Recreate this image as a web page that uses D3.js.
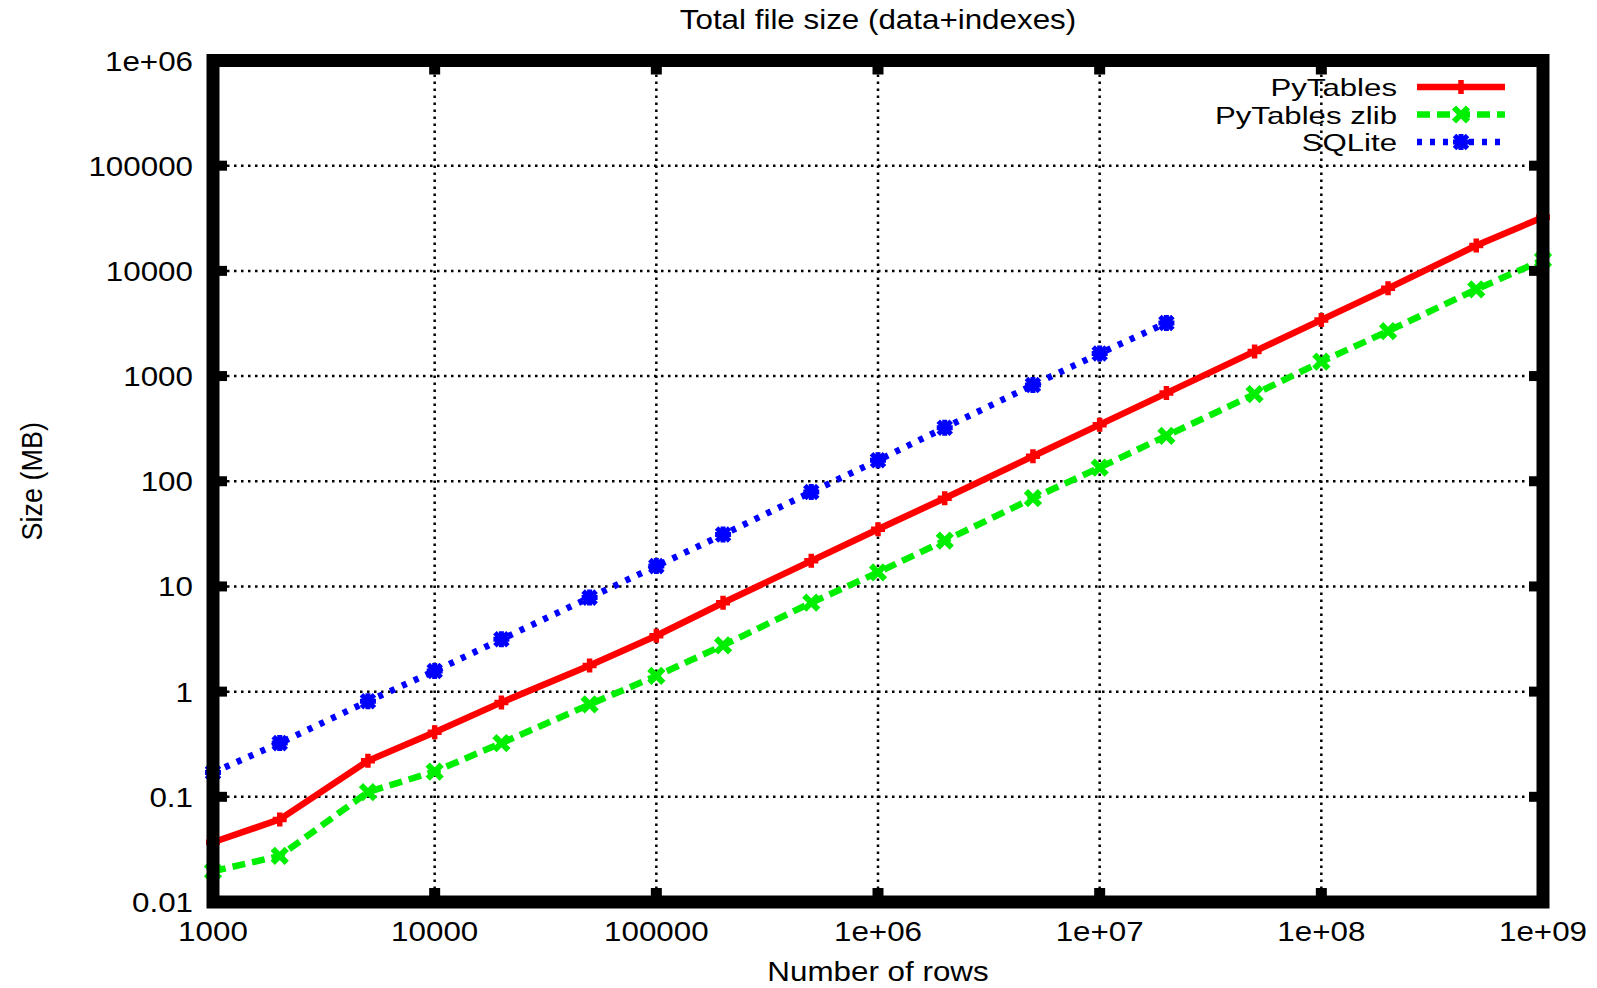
<!DOCTYPE html>
<html>
<head>
<meta charset="utf-8">
<script src="https://cdn.jsdelivr.net/npm/d3@7"></script>
<style>
  body { margin: 0; background: #fff; }
  svg { display: block; }
  text { font-family: "Liberation Sans", Arial, sans-serif; fill: #000; }
</style>
</head>
<body>
<div id="chart"></div>
<script>
// number of rows on the x axis
const rows = [1000, 2000, 5000, 1e4, 2e4, 5e4, 1e5, 2e5, 5e5, 1e6, 2e6, 5e6, 1e7, 2e7, 5e7, 1e8, 2e8, 5e8, 1e9];

// total size in MB
const pytables = [0.037, 0.061, 0.22, 0.41, 0.79, 1.77, 3.4, 7.0, 17.5, 35, 69, 173, 345, 689, 1715, 3420, 6820, 17400, 32400];
const pytablesZlib = [0.0196, 0.0274, 0.111, 0.174, 0.324, 0.755, 1.41, 2.75, 7.0, 13.6, 27.2, 69, 135, 270, 673, 1370, 2675, 6670, 12700];
const sqlite = [0.17, 0.324, 0.81, 1.57, 3.14, 7.83, 15.6, 31.1, 79, 158, 323, 822, 1640, 3200];

const seriesNames = ["PyTables", "PyTables zlib", "SQLite"];

const xTicks = [1e3, 1e4, 1e5, 1e6, 1e7, 1e8, 1e9];
const xTickLabels = ["1000", "10000", "100000", "1e+06", "1e+07", "1e+08", "1e+09"];
const yTicks = [0.01, 0.1, 1, 10, 100, 1000, 1e4, 1e5, 1e6];
const yTickLabels = ["0.01", "0.1", "1", "10", "100", "1000", "10000", "100000", "1e+06"];

const W = 1597, H = 988;
const pLeft = 213, pRight = 1543, pTop = 60.5, pBottom = 902;

const svg = d3.select("#chart").append("svg").attr("width", W).attr("height", H);

const x = d3.scaleLog().domain([1e3, 1e9]).range([pLeft, pRight]);
const y = d3.scaleLog().domain([0.01, 1e6]).range([pBottom, pTop]);

// text in the original is a bit wide, so it gets a horizontal stretch
function label(g, tx, ty, str, anchor, size, rot, sx) {
  return g.append("text")
    .attr("transform", "translate(" + tx + "," + ty + ") scale(" + (sx || 1.12) + ",1)" + (rot ? " rotate(" + rot + ")" : ""))
    .attr("text-anchor", anchor)
    .attr("font-size", size)
    .text(str);
}

// grid
const grid = svg.append("g")
  .attr("stroke", "#000")
  .attr("stroke-width", 2.5)
  .attr("stroke-dasharray", "2.5,4.5");

grid.selectAll(".gx").data(xTicks.slice(1, -1)).enter().append("line")
  .attr("x1", (d) => x(d)).attr("x2", (d) => x(d))
  .attr("y1", pTop).attr("y2", pBottom);

grid.selectAll(".gy").data(yTicks.slice(1, -1)).enter().append("line")
  .attr("y1", (d) => y(d)).attr("y2", (d) => y(d))
  .attr("x1", pLeft).attr("x2", pRight);

// series
const series = [
  { name: seriesNames[0], values: pytables, color: "#ff0000", dash: null, marker: "plus" },
  { name: seriesNames[1], values: pytablesZlib, color: "#00ee00", dash: "13,7", marker: "cross" },
  { name: seriesNames[2], values: sqlite, color: "#0000ff", dash: "5,8", marker: "star" }
];

const line = d3.line().x((d) => x(d[0])).y((d) => y(d[1]));

function markerPath(kind) {
  const p = d3.path();
  const a = kind === "star" ? 8 : 7, b = kind === "star" ? 6.5 : 7;
  if (kind === "plus" || kind === "star") {
    p.moveTo(-a, 0); p.lineTo(a, 0);
    p.moveTo(0, -a); p.lineTo(0, a);
  }
  if (kind === "cross" || kind === "star") {
    p.moveTo(-b, -b); p.lineTo(b, b);
    p.moveTo(-b, b); p.lineTo(b, -b);
  }
  return p.toString();
}

const markerWidth = { plus: 5.5, cross: 6, star: 5 };

series.forEach((s) => {
  const pts = s.values.map((v, i) => [rows[i], v]);
  svg.append("path")
    .datum(pts)
    .attr("d", line)
    .attr("fill", "none")
    .attr("stroke", s.color)
    .attr("stroke-width", 6.5)
    .attr("stroke-dasharray", s.dash);

  svg.append("g").selectAll("path").data(pts).enter().append("path")
    .attr("transform", (d) => "translate(" + x(d[0]) + "," + y(d[1]) + ")")
    .attr("d", markerPath(s.marker))
    .attr("fill", "none")
    .attr("stroke", s.color)
    .attr("stroke-width", markerWidth[s.marker]);
});

// frame with mirrored inward ticks
const frame = svg.append("g");
frame.append("rect")
  .attr("x", pLeft).attr("y", pTop)
  .attr("width", pRight - pLeft).attr("height", pBottom - pTop)
  .attr("fill", "none")
  .attr("stroke", "#000")
  .attr("stroke-width", 13);

const tickLen = 14;
frame.selectAll(".tx").data(xTicks.slice(1, -1)).enter().append("g")
  .each(function (d) {
    const g = d3.select(this);
    g.append("line").attr("x1", x(d)).attr("x2", x(d)).attr("y1", pBottom).attr("y2", pBottom - tickLen)
      .attr("stroke", "#000").attr("stroke-width", 11);
    g.append("line").attr("x1", x(d)).attr("x2", x(d)).attr("y1", pTop).attr("y2", pTop + tickLen)
      .attr("stroke", "#000").attr("stroke-width", 11);
  });
frame.selectAll(".ty").data(yTicks.slice(1, -1)).enter().append("g")
  .each(function (d) {
    const g = d3.select(this);
    g.append("line").attr("y1", y(d)).attr("y2", y(d)).attr("x1", pLeft).attr("x2", pLeft + tickLen)
      .attr("stroke", "#000").attr("stroke-width", 10);
    g.append("line").attr("y1", y(d)).attr("y2", y(d)).attr("x1", pRight).attr("x2", pRight - tickLen)
      .attr("stroke", "#000").attr("stroke-width", 10);
  });

// tick labels
const labels = svg.append("g");
xTicks.forEach((t, i) => label(labels, x(t), 941, xTickLabels[i], "middle", 28));
yTicks.forEach((t, i) => label(labels, 193, y(t) + 10, yTickLabels[i], "end", 28));

// titles
label(svg, (pLeft + pRight) / 2, 29, "Total file size (data+indexes)", "middle", 28);
label(svg, (pLeft + pRight) / 2, 981, "Number of rows", "middle", 28);
label(svg, 42, (pTop + pBottom) / 2, "Size (MB)", "middle", 27, -90);

// legend
const legend = svg.append("g");
series.forEach((s, i) => {
  const cy = 87 + i * 27.5;
  label(legend, 1397, cy + 9, s.name, "end", 24, 0, 1.3);
  legend.append("line")
    .attr("x1", 1417).attr("x2", 1505).attr("y1", cy).attr("y2", cy)
    .attr("stroke", s.color)
    .attr("stroke-width", 6.5)
    .attr("stroke-dasharray", s.dash);
  legend.append("path")
    .attr("transform", "translate(1461," + cy + ")")
    .attr("d", markerPath(s.marker))
    .attr("fill", "none")
    .attr("stroke", s.color)
    .attr("stroke-width", markerWidth[s.marker]);
});
</script>
</body>
</html>
